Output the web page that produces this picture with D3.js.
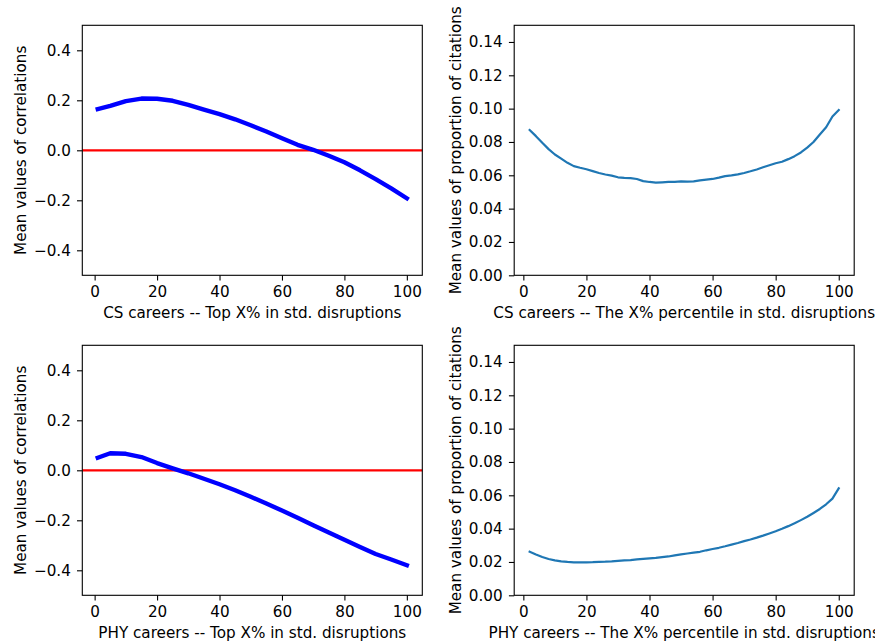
<!DOCTYPE html>
<html>
<head>
<meta charset="utf-8">
<script src="https://cdn.jsdelivr.net/npm/d3@7/dist/d3.min.js"></script>
<style>
  body { margin: 0; background: #fff; }
  svg { display: block; }
  text { font-family: "DejaVu Sans", sans-serif; fill: #000; }
</style>
</head>
<body>
<svg id="chart" width="875" height="643"></svg>
<script>
// ---- Data ----
const corrX = [1, 5, 10, 15, 20, 25, 30, 35, 40, 45, 50, 55, 60, 65, 70, 75, 80, 85, 90, 95, 100];
const csCorr = [0.165, 0.178, 0.197, 0.207, 0.206, 0.198, 0.182, 0.163, 0.145, 0.124, 0.100, 0.075, 0.048, 0.022, 0.002, -0.022, -0.048, -0.080, -0.115, -0.152, -0.192];
const phyCorr = [0.050, 0.068, 0.066, 0.053, 0.029, 0.008, -0.012, -0.034, -0.056, -0.080, -0.106, -0.133, -0.161, -0.190, -0.220, -0.249, -0.278, -0.307, -0.335, -0.357, -0.380];

const pctX = [2, 4, 6, 8, 10, 12, 14, 16, 18, 20, 22, 24, 26, 28, 30, 32, 34, 36, 38, 40, 42, 44, 46, 48, 50,
              52, 54, 56, 58, 60, 62, 64, 66, 68, 70, 72, 74, 76, 78, 80, 82, 84, 86, 88, 90, 92, 94, 96, 98, 100];
const csCite = [0.0872, 0.0835, 0.0795, 0.0757, 0.0725, 0.0700, 0.0675, 0.0655, 0.0645, 0.0636, 0.0625, 0.0614, 0.0605, 0.0598, 0.0588,
                0.0584, 0.0583, 0.0578, 0.0565, 0.0560, 0.0556, 0.0558, 0.0560, 0.0561, 0.0563, 0.0562, 0.0564, 0.0570, 0.0574, 0.0578,
                0.0586, 0.0595, 0.0600, 0.0606, 0.0614, 0.0624, 0.0635, 0.0648, 0.0660, 0.0672, 0.0681, 0.0697, 0.0715, 0.0737, 0.0766,
                0.0800, 0.0845, 0.0888, 0.0953, 0.0992];
const phyCite = [0.0262, 0.0245, 0.0230, 0.0218, 0.0210, 0.0204, 0.0200, 0.0198, 0.0197, 0.0198, 0.0199, 0.0201, 0.0202, 0.0204, 0.0207,
                 0.0210, 0.0211, 0.0215, 0.0219, 0.0222, 0.0225, 0.0229, 0.0233, 0.0240, 0.0246, 0.0251, 0.0256, 0.0261, 0.0270, 0.0278,
                 0.0285, 0.0294, 0.0304, 0.0314, 0.0325, 0.0335, 0.0346, 0.0358, 0.0371, 0.0384, 0.0399, 0.0415, 0.0432, 0.0451, 0.0471,
                 0.0494, 0.0518, 0.0546, 0.0580, 0.0642];

const xTicks = [0, 20, 40, 60, 80, 100];
const corrTicks = [-0.4, -0.2, 0.0, 0.2, 0.4];
const citeTicks = [0.00, 0.02, 0.04, 0.06, 0.08, 0.10, 0.12, 0.14];

const corrYLabel = "Mean values of correlations";
const citeYLabel = "Mean values of proportion of citations";
const xLabels = [
  "CS careers -- Top X% in std. disruptions",
  "CS careers -- The X% percentile in std. disruptions",
  "PHY careers -- Top X% in std. disruptions",
  "PHY careers -- The X% percentile in std. disruptions"
];

// ---- Drawing ----
const svg = d3.select("#chart");
const FS = 15.2;
const W = 340, H = 250;
const fmtMinus = s => s.replace("-", "\u2212");

function panel(opt) {
  const g = svg.append("g").attr("transform", `translate(${opt.left},${opt.top})`);
  const xd = d3.extent(opt.xs);
  const m = (xd[1] - xd[0]) * 0.05;
  const x = d3.scaleLinear().domain([xd[0] - m, xd[1] + m]).range([0, W]);
  const y = d3.scaleLinear().domain(opt.yDomain).range([H, 0]);

  if (opt.zeroLine) {
    g.append("line").attr("x1", 0).attr("x2", W).attr("y1", y(0)).attr("y2", y(0))
      .attr("stroke", "#ff0000").attr("stroke-width", 2.2);
  }
  const line = d3.line().x((d, i) => x(opt.xs[i])).y(d => y(d));
  g.append("path").datum(opt.ys).attr("d", line).attr("fill", "none")
    .attr("stroke", opt.color).attr("stroke-width", opt.lw)
    .attr("stroke-linejoin", "round").attr("stroke-linecap", "square");

  const xa = d3.axisBottom(x).tickValues(xTicks).tickSize(5.3).tickPadding(5.3).tickFormat(d3.format("d"));
  const ya = d3.axisLeft(y).tickValues(opt.yTicks).tickSize(5.3).tickPadding(6.2)
    .tickFormat(d => fmtMinus(d3.format(opt.yFmt)(d)));
  const gx = g.append("g").attr("transform", `translate(0,${H})`).call(xa);
  const gy = g.append("g").call(ya);
  [gx, gy].forEach(a => {
    a.select(".domain").remove();
    a.selectAll("line").attr("stroke", "#000").attr("stroke-width", 1.1);
    a.selectAll("text").attr("font-size", FS).attr("font-family", "DejaVu Sans, sans-serif").attr("fill", "#000");
  });

  g.append("rect").attr("x", 0).attr("y", 0).attr("width", W).attr("height", H)
    .attr("fill", "none").attr("stroke", "#000").attr("stroke-width", 1.1);

  g.append("text").attr("x", W / 2).attr("y", H + 43).attr("text-anchor", "middle")
    .attr("font-size", FS).text(opt.xLabel);
  g.append("text").attr("transform", `translate(${opt.yLabelX},${H / 2}) rotate(-90)`)
    .attr("text-anchor", "middle").attr("font-size", FS).text(opt.yLabel);
}

panel({left: 82.3, top: 25.3, xs: corrX, ys: csCorr, yDomain: [-0.5, 0.5], yTicks: corrTicks, yFmt: ".1f",
       color: "#0000ff", lw: 4.4, zeroLine: true, xLabel: xLabels[0], yLabel: corrYLabel, yLabelX: -56.3});
panel({left: 514.2, top: 25.3, xs: pctX, ys: csCite, yDomain: [0, 0.15], yTicks: citeTicks, yFmt: ".2f",
       color: "#1f77b4", lw: 2.2, zeroLine: false, xLabel: xLabels[1], yLabel: citeYLabel, yLabelX: -53.5});
panel({left: 82.3, top: 345.3, xs: corrX, ys: phyCorr, yDomain: [-0.5, 0.5], yTicks: corrTicks, yFmt: ".1f",
       color: "#0000ff", lw: 4.4, zeroLine: true, xLabel: xLabels[2], yLabel: corrYLabel, yLabelX: -56.3});
panel({left: 514.2, top: 345.3, xs: pctX, ys: phyCite, yDomain: [0, 0.15], yTicks: citeTicks, yFmt: ".2f",
       color: "#1f77b4", lw: 2.2, zeroLine: false, xLabel: xLabels[3], yLabel: citeYLabel, yLabelX: -53.5});
</script>
</body>
</html>
